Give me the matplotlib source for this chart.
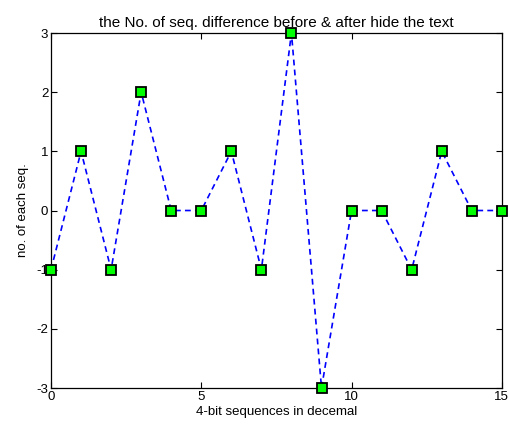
import matplotlib
matplotlib.use("Agg")
import matplotlib.pyplot as plt

x_vals = list(range(16))
y_vals = [-1, 1, -1, 2, 0, 0, 1, -1, 3, -3, 0, 0, -1, 1, 0, 0]
x_ticks = [0, 5, 10, 15]
y_ticks = [-3, -2, -1, 0, 1, 2, 3]

plt.rcParams['font.family'] = ['Liberation Sans', 'DejaVu Sans']
plt.rcParams['axes.unicode_minus'] = False

fig = plt.figure(figsize=(5.1, 4.26), dpi=100)
ax = fig.add_axes([0.100, 0.0892, 0.884, 0.8333])
ax.plot(x_vals, y_vals, linestyle=(0, (3.5, 2.5)), color='#0000ff', linewidth=1.2,
        marker='s', markersize=7.5, markerfacecolor='#00ff00',
        markeredgecolor='black', markeredgewidth=1.3, clip_on=False, zorder=3)
ax.set_xlim(0, 15)
ax.set_ylim(-3, 3)
ax.set_xticks(x_ticks)
ax.set_yticks(y_ticks)
ax.tick_params(direction='in', top=True, right=True, labelsize=9.5, length=4, width=0.8, pad=2)
for s in ax.spines.values():
    s.set_linewidth(0.9)
ax.set_title('the No. of seq. difference before & after hide the text', fontsize=11, pad=4)
ax.set_xlabel('4-bit sequences in decemal', fontsize=9.5, labelpad=2)
ax.set_ylabel('no. of each seq.', fontsize=9.5, labelpad=5)
fig.savefig('out.png', dpi=100)
